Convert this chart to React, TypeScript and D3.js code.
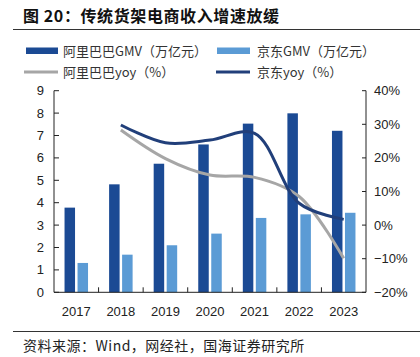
import React from "react";
import * as d3 from "d3";

const years = ["2017", "2018", "2019", "2020", "2021", "2022", "2023"];
const aliGMV = [3.78, 4.82, 5.74, 6.6, 7.53, 7.99, 7.21];
const jdGMV = [1.31, 1.68, 2.1, 2.62, 3.32, 3.48, 3.55];
const aliYoy: (number | null)[] = [null, 28.3, 19.8, 14.9, 14.2, 8.5, -9.9];
const jdYoy: (number | null)[] = [null, 29.8, 24.5, 25.3, 27.3, 6.5, 1.7];
const leftTicks = [0, 1, 2, 3, 4, 5, 6, 7, 8, 9];
const rightTicks = [40, 30, 20, 10, 0, -10, -20];

const W = 420, H = 357;
const x0 = 54, x1 = 366, yTop = 90.7, yBot = 292.3;
const DARK = "#1b4a94";
const LIGHT = "#5b9bd5";
const GRAY = "#a6a6a6";
const JDLINE = "#213f7a";
const NUM = "'Liberation Sans', Arial, sans-serif";
const CJK = "'Noto Sans CJK SC', 'Liberation Sans', sans-serif";

export default function App() {
  const xb = d3.scaleBand<string>().domain(years).range([x0, x1]).paddingInner(0).paddingOuter(0);
  const yL = d3.scaleLinear().domain([0, 9]).range([yBot, yTop]);
  const yR = d3.scaleLinear().domain([-20, 40]).range([yBot, yTop]);
  const bw = 10.5;
  const gap = 2.5;
  const line = d3
    .line<number | null>()
    .defined((d) => d !== null)
    .x((_, i) => (xb(years[i]) as number) + xb.bandwidth() / 2)
    .y((d) => yR(d as number))
    .curve(d3.curveCatmullRom.alpha(0.5));

  return (
    <svg width={W} height={H} style={{ position: "absolute", left: 0, top: 0, background: "#fff" }}>
      <text x={23} y={22} fontFamily={CJK} fontWeight="bold" fontSize={16} letterSpacing={0.6} fill="#111">
        图 20：传统货架电商收入增速放缓
      </text>
      <line x1={13} x2={420} y1={29.5} y2={29.5} stroke="#333" strokeWidth={1} />

      {/* legend */}
      <rect x={26} y={47.5} width={32} height={6.5} fill={DARK} />
      <text x={63} y={55.5} fontFamily={CJK} fontSize={13} fill="#333">阿里巴巴GMV（万亿元）</text>
      <rect x={217} y={47.5} width={33} height={6.5} fill={LIGHT} />
      <text x={257} y={55.5} fontFamily={CJK} fontSize={13} fill="#333">京东GMV（万亿元）</text>
      <line x1={24} x2={58} y1={72} y2={72} stroke={GRAY} strokeWidth={3} />
      <text x={63} y={76.5} fontFamily={CJK} fontSize={13} fill="#333">阿里巴巴yoy（%）</text>
      <line x1={216} x2={250} y1={72} y2={72} stroke={JDLINE} strokeWidth={3} />
      <text x={257} y={76.5} fontFamily={CJK} fontSize={13} fill="#333">京东yoy（%）</text>

      {/* bars */}
      {years.map((yr, i) => {
        const c = (xb(yr) as number) + xb.bandwidth() / 2;
        return (
          <g key={yr}>
            <rect x={c - gap / 2 - bw} y={yL(aliGMV[i])} width={bw} height={yBot - yL(aliGMV[i])} fill={DARK} />
            <rect x={c + gap / 2} y={yL(jdGMV[i])} width={bw} height={yBot - yL(jdGMV[i])} fill={LIGHT} />
          </g>
        );
      })}

      {/* lines */}
      <path d={line(aliYoy) || ""} fill="none" stroke={GRAY} strokeWidth={3} />
      <path d={line(jdYoy) || ""} fill="none" stroke={JDLINE} strokeWidth={3} />

      {/* axes */}
      <line x1={x0} x2={x0} y1={yTop} y2={yBot} stroke="#222" strokeWidth={1} />
      <line x1={x1} x2={x1} y1={yTop} y2={yBot} stroke="#222" strokeWidth={1} />
      <line x1={x0} x2={x1} y1={yBot} y2={yBot} stroke="#222" strokeWidth={1} />
      {leftTicks.map((t) => (
        <g key={"l" + t}>
          <line x1={x0} x2={x0 + 5} y1={yL(t)} y2={yL(t)} stroke="#222" />
          <text x={44} y={yL(t) + 4.5} textAnchor="end" fontFamily={NUM} fontSize={13} fill="#222">{t}</text>
        </g>
      ))}
      {rightTicks.map((t) => (
        <g key={"r" + t}>
          <line x1={x1 - 4} x2={x1} y1={yR(t)} y2={yR(t)} stroke="#222" />
          <text x={374} y={yR(t) + 4.5} textAnchor="start" fontFamily={NUM} fontSize={13} fill="#222">
            {t < 0 ? "\u2212" + Math.abs(t) + "%" : t + "%"}
          </text>
        </g>
      ))}
      {years.slice(1).map((yr) => (
        <line key={"t" + yr} x1={xb(yr) as number} x2={xb(yr) as number} y1={yBot} y2={yBot - 5} stroke="#222" />
      ))}
      {years.map((yr) => (
        <text key={"x" + yr} x={(xb(yr) as number) + xb.bandwidth() / 2} y={315.5} textAnchor="middle" fontFamily={NUM} fontSize={13} fill="#222">
          {yr}
        </text>
      ))}

      <line x1={13} x2={420} y1={331.5} y2={331.5} stroke="#333" strokeWidth={1} />
      <text x={23} y={350.5} fontFamily={CJK} fontSize={14} letterSpacing={0.5} fill="#222">资料来源：Wind，网经社，国海证券研究所</text>
    </svg>
  );
}
